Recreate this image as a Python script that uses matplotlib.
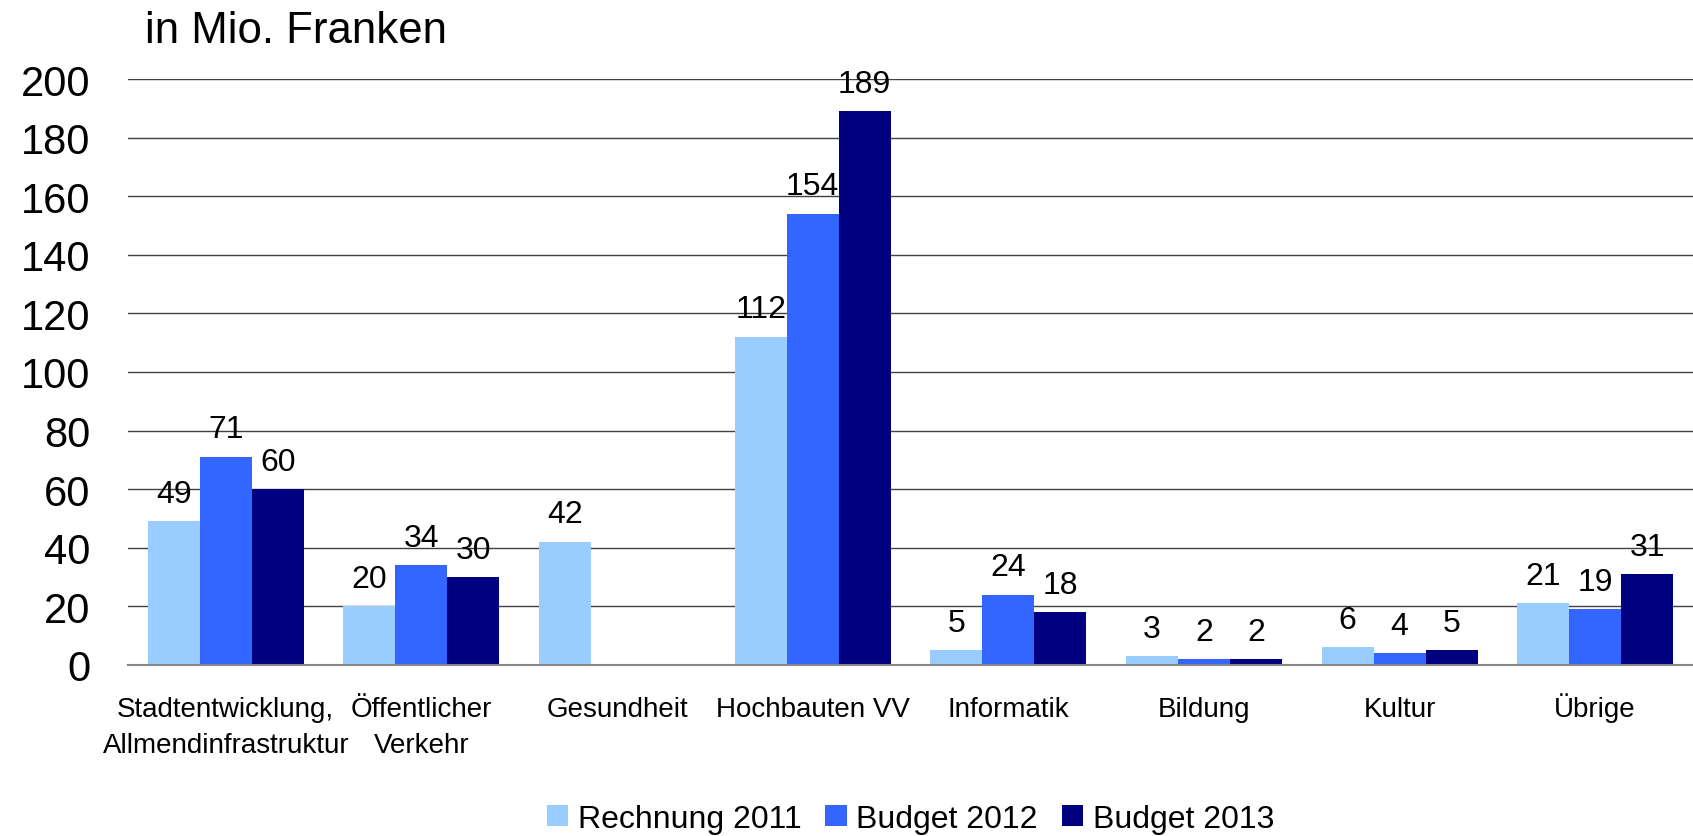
import numpy as np
import matplotlib
matplotlib.use("Agg")
import matplotlib.pyplot as plt

plt.rcParams['font.family'] = ['Liberation Sans', 'DejaVu Sans']

# ------------------------------------------------------------
# Data (in Mio. Franken)
# ------------------------------------------------------------
categories = ["Stadtentwicklung,\nAllmendinfrastruktur", "Öffentlicher\nVerkehr",
              "Gesundheit", "Hochbauten VV", "Informatik", "Bildung",
              "Kultur", "Übrige"]
rechnung_2011 = [49, 20, 42, 112, 5, 3, 6, 21]
budget_2012 = [71, 34, np.nan, 154, 24, 2, 4, 19]
budget_2013 = [60, 30, np.nan, 189, 18, 2, 5, 31]

series_names = ["Rechnung 2011", "Budget 2012", "Budget 2013"]
series_values = [rechnung_2011, budget_2012, budget_2013]
colors = ["#99CCFF", "#3366FF", "#000080"]

# ------------------------------------------------------------
# Figure
# ------------------------------------------------------------
W, H = 1693, 837
fig = plt.figure(figsize=(W / 100, H / 100), dpi=100)
ax_h = 666 - 80
ax = fig.add_axes([128 / W, 1 - 666 / H, 1 - 128 / W, ax_h / H])

x = np.arange(len(categories))
width = 0.266

for i, (name, vals, col) in enumerate(zip(series_names, series_values, colors)):
    pos = x + (i - 1) * width
    ax.bar(pos, vals, width, color=col, label=name, zorder=3)
    for px, v in zip(pos, vals):
        if np.isnan(v):
            continue
        ax.annotate(f"{v:.0f}", (px, v), xytext=(0, 9), textcoords="offset points",
                    ha="center", va="bottom", fontsize=23, zorder=4)

ax.set_xlim(-0.5, len(categories) - 0.5)
ax.set_ylim(0, 200)
ax.set_yticks(np.arange(0, 201, 20))
ax.set_xticks(x)
ax.set_xticklabels([])
ax.tick_params(axis="y", length=0, pad=27, labelsize=30)
ax.tick_params(axis="x", length=0)

# category labels, line by line on a common baseline
trans = ax.get_xaxis_transform()
for xi, cat in zip(x, categories):
    for j, line in enumerate(cat.split("\n")):
        ax.text(xi, -(51 + 36 * j) / ax_h, line, transform=trans, fontsize=20,
                ha="center", va="baseline")

ax.grid(axis="y", color="#404040", linewidth=1.0, zorder=0)
for s in ["top", "right", "left"]:
    ax.spines[s].set_visible(False)
ax.spines["bottom"].set_color("#888888")
ax.spines["bottom"].set_linewidth(1.5)
ax.spines["bottom"].set_zorder(5)

fig.text(145 / W, 1 - 43 / H, "in Mio. Franken", fontsize=31.5,
         ha="left", va="baseline")

fig.legend(loc="center", bbox_to_anchor=(910.5 / W, 1 - 820 / H), ncol=3,
           frameon=False, fontsize=23, handlelength=0.66, handleheight=0.63,
           handletextpad=0.31, columnspacing=0.75, borderaxespad=0)

plt.savefig("out.png", dpi=100)
